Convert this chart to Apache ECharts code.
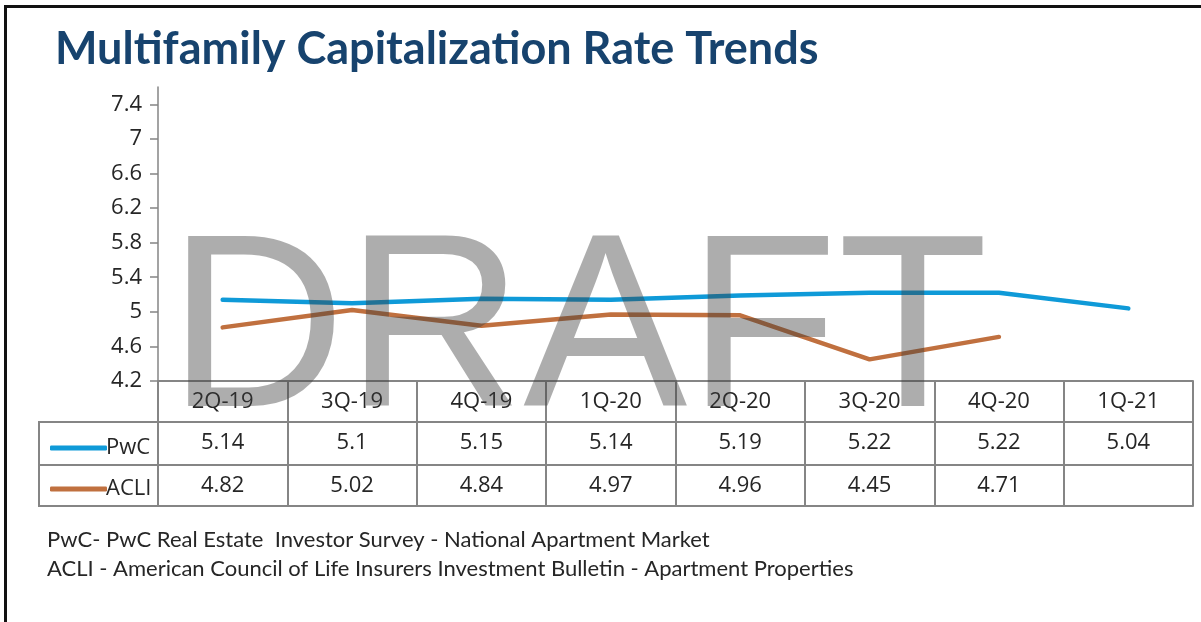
<!DOCTYPE html>
<html>
<head>
<meta charset="utf-8">
<script src="https://cdn.jsdelivr.net/npm/echarts@6/dist/echarts.min.js"></script>
<style>
  html, body { margin: 0; padding: 0; background: #fff; }
  #frame { position: absolute; left: 4px; top: 5px; width: 1197px; height: 614px;
           border-top: 3px solid #111; border-left: 3px solid #111; border-bottom: 2px solid #666; }
  #box1 { position: absolute; left: 0; top: 0; width: 1201px; height: 622px; }
</style>
</head>
<body>
<div id="frame"></div>
<div id="box1"></div>
<script>
var categories = ['2Q-19', '3Q-19', '4Q-19', '1Q-20', '2Q-20', '3Q-20', '4Q-20', '1Q-21'];
var pwc = [5.14, 5.1, 5.15, 5.14, 5.19, 5.22, 5.22, 5.04];
var acli = [4.82, 5.02, 4.84, 4.97, 4.96, 4.45, 4.71, null];
var yTicks = [4.2, 4.6, 5, 5.4, 5.8, 6.2, 6.6, 7, 7.4];
var notes = [
  'PwC- PwC Real Estate  Investor Survey - National Apartment Market',
  'ACLI - American Council of Life Insurers Investment Bulletin - Apartment Properties'
];

var gridLine = '#858585';
var txt = '#262626';
var font = 'Open Sans';

var myChart1 = echarts.init(document.getElementById('box1'));

// table rows drawn as extra category axes under the plot
function rowAxis(offset, values) {
  return {
    type: 'category',
    position: 'bottom',
    offset: offset,
    data: categories,
    axisLine: { show: true, lineStyle: { color: gridLine, width: 2 } },
    axisTick: { show: false },
    axisLabel: {
      show: !!values,
      interval: 0,
      margin: 10,
      color: txt,
      fontSize: 22,
      fontFamily: font,
      formatter: function (v, i) {
        var x = values ? values[i] : null;
        return x == null ? '' : String(x);
      }
    }
  };
}

var option = {
  backgroundColor: 'transparent',
  animation: false,
  title: {
    text: 'Multifamily Capitalization Rate Trends',
    left: 50,
    top: 22,
    textStyle: { color: '#17436e', fontSize: 45, fontWeight: 'bold', fontFamily: 'Lato' }
  },
  grid: { left: 158, right: 8, top: 87, bottom: 241, containLabel: false },
  legend: {
    orient: 'vertical',
    left: 45,
    top: 432,
    icon: 'roundRect',
    itemWidth: 57,
    itemHeight: 5,
    itemGap: 19,
    data: ['PwC', 'ACLI'],
    textStyle: { color: txt, fontSize: 22, fontFamily: font, padding: [0, 0, 0, -6] }
  },
  xAxis: [
    {
      type: 'category',
      position: 'bottom',
      data: categories,
      boundaryGap: true,
      axisLine: { lineStyle: { color: gridLine, width: 2 } },
      axisTick: { show: true, interval: 0, length: 125, lineStyle: { color: gridLine, width: 2 } },
      axisLabel: { interval: 0, margin: 10, color: txt, fontSize: 22, fontFamily: font }
    },
    rowAxis(41, pwc),
    rowAxis(84, acli),
    rowAxis(125, null)
  ],
  yAxis: {
    type: 'value',
    min: 4.2,
    max: 7.6,
    interval: 0.4,
    axisLine: { show: true, lineStyle: { color: gridLine, width: 1.5 } },
    axisTick: { show: true, length: 8, customValues: yTicks, lineStyle: { color: gridLine, width: 1.5 } },
    splitLine: { show: false },
    axisLabel: { customValues: yTicks, margin: 16, color: txt, fontSize: 22, fontFamily: font }
  },
  graphic: [
    // left header cells of the data table
    { type: 'rect', z: 5, shape: { x: 39, y: 422, width: 119, height: 84 },
      style: { fill: 'none', stroke: gridLine, lineWidth: 2 } },
    { type: 'line', z: 5, shape: { x1: 39, y1: 465, x2: 158, y2: 465 },
      style: { stroke: gridLine, lineWidth: 2 } },
    // watermark
    { type: 'text', z: 100, x: 578, y: 338,
      style: { text: 'DRAFT', fill: 'rgba(60,60,60,0.42)', font: '246px "Liberation Sans"',
               textAlign: 'center', verticalAlign: 'middle' } },
    // source notes
    { type: 'text', x: 47, y: 540,
      style: { text: notes[0], fill: txt, font: '22px Lato', verticalAlign: 'middle' } },
    { type: 'text', x: 47, y: 569,
      style: { text: notes[1], fill: txt, font: '22px Lato', verticalAlign: 'middle' } }
  ],
  series: [
    {
      name: 'PwC',
      type: 'line',
      data: pwc,
      symbol: 'none',
      lineStyle: { color: '#0f9ad8', width: 4.5, cap: 'round' },
      itemStyle: { color: '#0f9ad8' }
    },
    {
      name: 'ACLI',
      type: 'line',
      data: acli,
      symbol: 'none',
      lineStyle: { color: '#c0703f', width: 4.5, cap: 'round' },
      itemStyle: { color: '#c0703f' }
    }
  ]
};

myChart1.setOption(option);
</script>
</body>
</html>
